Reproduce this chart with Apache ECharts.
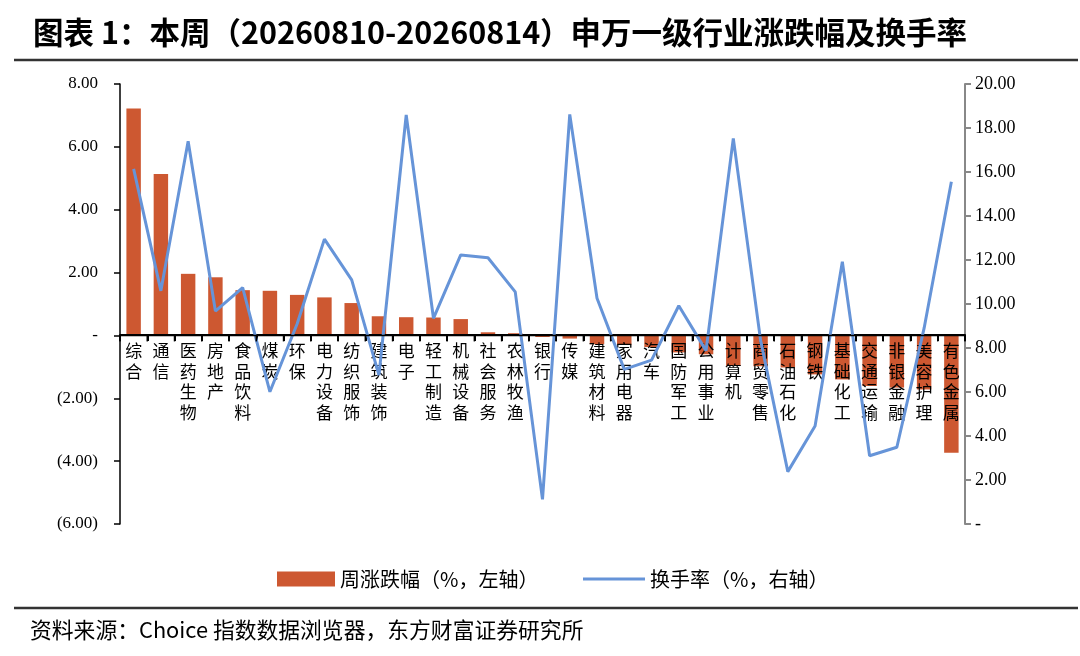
<!DOCTYPE html>
<html>
<head>
<meta charset="utf-8">
<script src="https://cdn.jsdelivr.net/npm/echarts@6/dist/echarts.min.js"></script>
<style>
  html, body { margin: 0; padding: 0; background: #fff; }
  #chart { width: 1080px; height: 656px; }
</style>
</head>
<body>
<div id="chart"></div>
<script>
// 申万一级行业
const categories = ['综合', '通信', '医药生物', '房地产', '食品饮料', '煤炭', '环保', '电力设备', '纺织服饰', '建筑装饰',
    '电子', '轻工制造', '机械设备', '社会服务', '农林牧渔', '银行', '传媒', '建筑材料', '家用电器', '汽车',
    '国防军工', '公用事业', '计算机', '商贸零售', '石油石化', '钢铁', '基础化工', '交通运输', '非银金融', '美容护理', '有色金属'];

// 周涨跌幅（%，左轴）
const weeklyChange = [7.22, 5.14, 1.96, 1.85, 1.44, 1.42, 1.29, 1.21, 1.03, 0.61,
    0.58, 0.57, 0.52, 0.10, 0.07, -0.05, -0.10, -0.28, -0.30, -0.37,
    -0.54, -0.60, -0.97, -0.98, -1.02, -1.24, -1.40, -1.61, -1.66, -1.72, -3.73];

// 换手率（%，右轴）
const turnover = [16.14, 10.60, 17.40, 9.68, 10.74, 6.01, 9.10, 12.95, 11.10, 6.77,
    18.59, 9.35, 12.23, 12.10, 10.55, 1.12, 18.62, 10.26, 7.03, 7.45,
    9.92, 7.88, 17.53, 8.36, 2.38, 4.45, 11.92, 3.10, 3.49, 8.90, 15.56];

const titleText = '图表 1：本周（20260810-20260814）申万一级行业涨跌幅及换手率';
const sourceText = '资料来源：Choice 指数数据浏览器，东方财富证券研究所';
const barName = '周涨跌幅（%，左轴）';
const lineName = '换手率（%，右轴）';

const cjkFont = '"Noto Sans CJK SC", sans-serif';
const numFont = '"Liberation Serif", "Times New Roman", serif';

const leftMin = -6, leftMax = 8;
const gridTop = 84, gridBottom = 132;
const chartH = 656;

// 左轴：负数用括号，0 显示为 "-"
function fmtLeft(v) {
    if (Math.abs(v) < 1e-9) return '-';
    if (v < 0) return '(' + Math.abs(v).toFixed(2) + ')';
    return v.toFixed(2);
}
function fmtRight(v) {
    if (Math.abs(v) < 1e-9) return '-';
    return v.toFixed(2);
}

// 横轴放在左轴 0 的位置（两个 y 轴时 onZero 不生效，用 offset 上移）
const plotH = chartH - gridTop - gridBottom;
const zeroOffset = -Math.round(plotH * (0 - leftMin) / (leftMax - leftMin));

const chart = echarts.init(document.getElementById('chart'));

const legendText = { fontSize: 20, fontFamily: cjkFont, color: '#000' };

const option = {
    animation: false,
    title: {
        text: titleText,
        left: 28,
        top: 12,
        textStyle: { fontSize: 30.5, fontWeight: 'bold', fontFamily: cjkFont, color: '#000' },
    },
    graphic: [
        { type: 'line', shape: { x1: 14, y1: 60, x2: 1078, y2: 60 }, style: { stroke: '#333', lineWidth: 2.5 } },
        { type: 'line', shape: { x1: 14, y1: 608, x2: 1078, y2: 608 }, style: { stroke: '#333', lineWidth: 2.5 } },
        {
            type: 'text', left: 30, top: 619,
            style: { text: sourceText, fontSize: 21.8, fontFamily: cjkFont, fill: '#000' },
        },
    ],
    legend: [
        {
            left: 272,
            top: 564,
            itemWidth: 58,
            itemHeight: 15,
            textStyle: legendText,
            data: [{ name: barName, icon: 'rect' }],
        },
        {
            left: 578,
            top: 564,
            itemWidth: 62,
            itemHeight: 3,
            textStyle: legendText,
            data: [{ name: lineName, icon: 'rect' }],
        },
    ],
    grid: {
        left: 120,
        right: 115,
        top: gridTop,
        bottom: gridBottom,
    },
    xAxis: {
        type: 'category',
        data: categories,
        offset: zeroOffset,
        z: 3,
        axisLine: { show: true, lineStyle: { color: '#000', width: 2 } },
        axisTick: { show: true, length: 6, lineStyle: { color: '#000', width: 2 } },
        axisLabel: {
            interval: 0,
            margin: 5,
            fontSize: 17,
            lineHeight: 20.7,
            fontFamily: cjkFont,
            color: '#000',
            verticalAlign: 'top',
            formatter: (v) => v.split('').join('\n'),
        },
    },
    yAxis: [
        {
            type: 'value',
            min: leftMin,
            max: leftMax,
            interval: 2,
            splitLine: { show: false },
            axisLine: { show: true, lineStyle: { color: '#000', width: 1.5 } },
            axisTick: { show: true, length: 6, lineStyle: { color: '#000', width: 1.5 } },
            axisLabel: { fontSize: 17, fontFamily: numFont, color: '#000', margin: 22, formatter: fmtLeft },
        },
        {
            type: 'value',
            min: 0,
            max: 20,
            interval: 2,
            splitLine: { show: false },
            axisLine: { show: true, lineStyle: { color: '#888', width: 2 } },
            axisTick: { show: true, length: 6, lineStyle: { color: '#888', width: 2 } },
            axisLabel: { fontSize: 18, fontFamily: numFont, color: '#000', margin: 10, formatter: fmtRight },
        },
    ],
    series: [
        {
            name: barName,
            type: 'bar',
            yAxisIndex: 0,
            data: weeklyChange,
            barWidth: '53%',
            itemStyle: { color: '#CD5831' },
        },
        {
            name: lineName,
            type: 'line',
            yAxisIndex: 1,
            data: turnover,
            symbol: 'none',
            z: 5,
            itemStyle: { color: '#6694D8' },
            lineStyle: { color: '#6694D8', width: 3 },
        },
    ],
};

chart.setOption(option);

// 零线和分类刻度：位置由坐标轴换算得到
const y0 = chart.convertToPixel({ yAxisIndex: 0 }, 0);
const xStart = chart.convertToPixel({ xAxisIndex: 0 }, categories[0]);
const xNext = chart.convertToPixel({ xAxisIndex: 0 }, categories[1]);
const step = xNext - xStart;
const zeroGraphics = [{
    type: 'line', z: 20,
    shape: { x1: xStart - step / 2, y1: y0, x2: xStart + step * (categories.length - 0.5), y2: y0 },
    style: { stroke: '#000', lineWidth: 1.5 },
}];
for (let i = 0; i <= categories.length; i++) {
    const x = xStart + step * (i - 0.5);
    zeroGraphics.push({
        type: 'line', z: 20,
        shape: { x1: x, y1: y0, x2: x, y2: y0 + 6 },
        style: { stroke: '#000', lineWidth: 1.5 },
    });
}
chart.setOption({ graphic: option.graphic.concat(zeroGraphics) });
</script>
</body>
</html>
